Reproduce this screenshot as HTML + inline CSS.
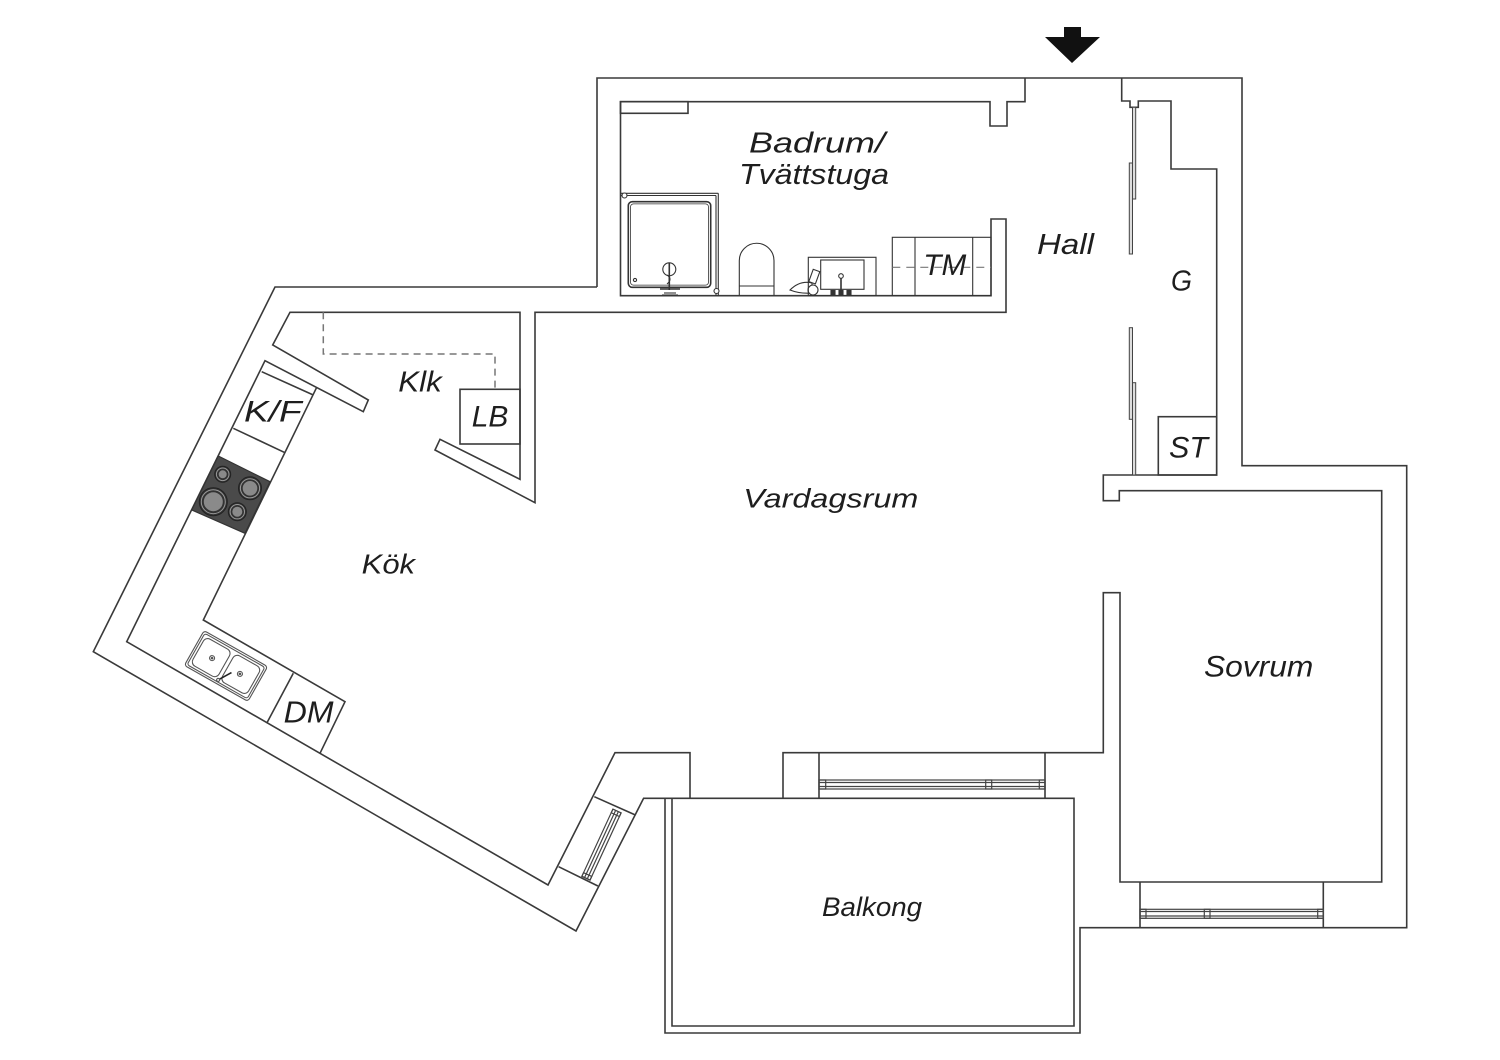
<!DOCTYPE html>
<html><head><meta charset="utf-8"><style>
html,body{margin:0;padding:0;background:#fff;}
svg{display:block;}
text{font-family:"Liberation Sans",sans-serif;font-style:italic;fill:#1e1e1e;}
</style></head><body>
<svg width="1500" height="1060" viewBox="0 0 1500 1060" xmlns="http://www.w3.org/2000/svg">
<rect width="1500" height="1060" fill="#fff"/>
<!-- entrance arrow -->
<polygon points="1064,27 1081,27 1081,37 1100,37 1072,63 1045,37 1064,37" fill="#111"/>

<g fill="none" stroke="#3a3a3a" stroke-width="1.6" stroke-linejoin="miter">
<!-- outer walls -->
<polyline points="597,287 597,78 1242,78 1242,465.7 1406.7,465.7 1406.7,927.7 1080,927.7 1080,1033 665,1033 665,798.3"/>
<polyline points="597,287 275,287 93.3,651.7 576,931 643.6,798.3 1074,798.3 1074,1026 672,1026 672,798.3"/>
<!-- inner main walls -->
<polyline points="1025,78 1025,101.7 1007,101.7 1007,126 990,126 990,101.7 620.5,101.7 620.5,295.7 991,295.7 991,219 1006,219 1006,312.3 535,312.3 535,502.7 435,450 440,439.3 520,479.3 520,312.3 290,312.3 272.7,345 368.3,400 363.3,411.7 265,360.7 126.7,641.7 548,885 615,752.7 690,752.7 690,798.3"/>
<!-- hall / closet / sovrum -->
<polyline points="1121.7,78 1121.7,101 1130,101 1130,107.3 1138.3,107.3 1138.3,101 1171,101 1171,169 1216.7,169 1216.7,475 1103.3,475 1103.3,500.7 1119.3,500.7 1119.3,490.7 1381.7,490.7 1381.7,882 1120,882 1120,592.7 1103.3,592.7 1103.3,752.7 783,752.7 783,798.3"/>
<line x1="1045" y1="752.7" x2="1045" y2="798.3"/>
<line x1="819" y1="752.7" x2="819" y2="798.3"/>
<line x1="1140" y1="882" x2="1140" y2="927.7"/>
<line x1="1323.3" y1="882" x2="1323.3" y2="927.7"/>
<rect x="1158.3" y="416.7" width="58.4" height="58.3"/>
<!-- bath small box -->
<rect x="620.5" y="101.7" width="67.5" height="11.6"/>
<!-- LB -->
<rect x="460" y="389.3" width="60" height="54.7"/>
<!-- kitchen counter -->
<polyline points="316.7,387.3 203.3,620 345,701.7 320,753.3"/>
<line x1="261.7" y1="371.7" x2="313.3" y2="395"/>
<line x1="233.3" y1="428.3" x2="285" y2="452.7"/>
<line x1="293.3" y1="673.3" x2="266.7" y2="723.3"/>
<!-- kitchen window caps -->
<line x1="594.3" y1="796.7" x2="635.4" y2="815"/>
<line x1="558.6" y1="866.7" x2="597.9" y2="886"/>
</g>

<!-- Klk dashed -->
<polyline points="323.3,312.3 323.3,354 495,354 495,389.3" fill="none" stroke="#777" stroke-width="1.5" stroke-dasharray="7 5"/>

<!-- sliding doors -->
<g fill="#ddd" stroke="#444" stroke-width="1">
<rect x="1132.5" y="107.3" width="3.2" height="91.7"/>
<rect x="1129.3" y="163" width="3.2" height="91"/>
<rect x="1129.3" y="327.7" width="3.2" height="91.6"/>
<rect x="1132.5" y="382.7" width="3.2" height="92.3"/>
</g>

<!-- windows -->
<g fill="none" stroke="#444" stroke-width="1.2">
<rect x="819" y="780" width="226" height="9"/>
<line x1="819" y1="782.5" x2="1045" y2="782.5"/>
<line x1="819" y1="786.5" x2="1045" y2="786.5"/>
<rect x="819" y="780" width="6.7" height="9"/>
<rect x="985.7" y="780" width="6" height="9"/>
<rect x="1039.3" y="780" width="5.7" height="9"/>
<rect x="1140" y="909.3" width="183.3" height="9"/>
<line x1="1140" y1="911.5" x2="1323.3" y2="911.5"/>
<line x1="1140" y1="916" x2="1323.3" y2="916"/>
<rect x="1140" y="909.3" width="6" height="9"/>
<rect x="1204.3" y="909.3" width="5.7" height="9"/>
<rect x="1317.7" y="909.3" width="5.6" height="9"/>
<g transform="translate(617,811) rotate(114.8)">
<rect x="0" y="-4.5" width="74" height="9"/>
<line x1="0" y1="-1.5" x2="74" y2="-1.5"/>
<line x1="0" y1="1.5" x2="74" y2="1.5"/>
<rect x="0" y="-4.5" width="4" height="9"/>
<rect x="70" y="-4.5" width="4" height="9"/>
</g>
</g>

<!-- stove -->
<polygon points="218.3,456 270,481.7 245,533.3 191.7,510" fill="#4a4a4a" stroke="#333" stroke-width="1.2"/>
<g stroke-width="1">
<circle cx="222.7" cy="474.3" r="8" fill="#333" stroke="#222"/>
<circle cx="222.7" cy="474.3" r="6.3" fill="none" stroke="#999"/>
<circle cx="222.7" cy="474.3" r="4.5" fill="#8a8a8a" stroke="#333"/>
<circle cx="250" cy="488.3" r="11.5" fill="#333" stroke="#222"/>
<circle cx="250" cy="488.3" r="9.6" fill="none" stroke="#999"/>
<circle cx="250" cy="488.3" r="7.8" fill="#8a8a8a" stroke="#333"/>
<circle cx="213.3" cy="501.7" r="14" fill="#333" stroke="#222"/>
<circle cx="213.3" cy="501.7" r="12" fill="none" stroke="#999"/>
<circle cx="213.3" cy="501.7" r="10" fill="#8a8a8a" stroke="#333"/>
<circle cx="237.3" cy="511.7" r="9" fill="#333" stroke="#222"/>
<circle cx="237.3" cy="511.7" r="7.2" fill="none" stroke="#999"/>
<circle cx="237.3" cy="511.7" r="5.5" fill="#8a8a8a" stroke="#333"/>
</g>

<!-- kitchen sink -->
<g transform="translate(226,666) rotate(29.5)" fill="none" stroke="#555" stroke-width="1.1">
<rect x="-36.5" y="-20" width="73" height="40" rx="3" fill="#fff"/>
<rect x="-34.5" y="-18" width="69" height="36" rx="2.5"/>
<rect x="-32" y="-15.5" width="30" height="31" rx="5"/>
<rect x="2" y="-15.5" width="30" height="31" rx="5"/>
<circle cx="-16" cy="0" r="2.5"/>
<circle cx="-16" cy="0" r="0.8" fill="#333"/>
<circle cx="16" cy="0" r="2.5"/>
<circle cx="16" cy="0" r="0.8" fill="#333"/>
<line x1="0" y1="16" x2="8" y2="3" stroke="#222" stroke-width="1.6"/>
<circle cx="0" cy="16" r="1.5" fill="#fff"/>
</g>

<!-- bathroom fixtures -->
<g fill="none" stroke="#333" stroke-width="1.1">
<!-- shower -->
<line x1="620.5" y1="193.3" x2="718.3" y2="193.3"/>
<line x1="620.5" y1="195.5" x2="716" y2="195.5"/>
<line x1="718.3" y1="193.3" x2="718.3" y2="295.7"/>
<line x1="716" y1="195.5" x2="716" y2="295.7"/>
<circle cx="624.5" cy="195.5" r="2.5" fill="#fff"/>
<circle cx="716.5" cy="291" r="2.5" fill="#fff"/>
<rect x="628.3" y="201.7" width="82.4" height="85.6" rx="4" stroke-width="1.6"/>
<rect x="630.5" y="203.9" width="78" height="81.2" rx="3" stroke-width="0.8"/>
<circle cx="635" cy="280" r="1.6"/>
<circle cx="669.3" cy="269.3" r="6.5"/>
<line x1="669.3" y1="263" x2="669.3" y2="290" stroke-width="1.6"/>
<path d="M667,275 Q673,279 667,284"/>
<line x1="660" y1="289" x2="680" y2="289" stroke-width="1.6"/>
<line x1="664" y1="293" x2="676" y2="293"/>
<line x1="662" y1="295" x2="678" y2="295"/>
<!-- toilet -->
<path d="M739.3,295.7 V260.6 A17.35,17.35 0 0 1 774,260.6 V295.7"/>
<line x1="739.3" y1="286" x2="774" y2="286"/>
<!-- dryer-ish -->
<path d="M790,290 Q800,280 812,283 L812,293 Q800,294 790,290 Z"/>
<circle cx="813" cy="290" r="5" fill="#fff"/>
<rect x="811" y="270" width="7" height="13" transform="rotate(20 814 276)"/>
<!-- sink -->
<rect x="808.3" y="257.3" width="67.7" height="38.4"/>
<rect x="820.7" y="260" width="43.3" height="29.3"/>
<line x1="841" y1="278" x2="841" y2="290" stroke-width="1.6"/>
<circle cx="841" cy="276" r="2.3" fill="#fff"/>
<rect x="831" y="290.5" width="4" height="4" fill="#333"/>
<rect x="839" y="290.5" width="4" height="4" fill="#333"/>
<rect x="847" y="290.5" width="4" height="4" fill="#333"/>
<!-- TM -->
<rect x="892.3" y="237.3" width="98.7" height="58.4"/>
<line x1="915" y1="237.3" x2="915" y2="295.7"/>
<line x1="972.7" y1="237.3" x2="972.7" y2="295.7"/>
<line x1="892.3" y1="267.3" x2="991" y2="267.3" stroke="#777" stroke-dasharray="8 6"/>
</g>

<!-- labels -->
<text x="749" y="152.7" font-size="29" textLength="136" lengthAdjust="spacingAndGlyphs">Badrum/</text>
<text x="739" y="184" font-size="29" textLength="150" lengthAdjust="spacingAndGlyphs">Tvättstuga</text>
<text x="1037" y="254" font-size="29" textLength="57" lengthAdjust="spacingAndGlyphs">Hall</text>
<text x="1171" y="290.7" font-size="29" textLength="21" lengthAdjust="spacingAndGlyphs">G</text>
<text x="1169" y="457.3" font-size="30" textLength="39" lengthAdjust="spacingAndGlyphs">ST</text>
<text x="923.3" y="275" font-size="30" textLength="43" lengthAdjust="spacingAndGlyphs">TM</text>
<text x="398.3" y="391.7" font-size="29" textLength="43.4" lengthAdjust="spacingAndGlyphs">Klk</text>
<text x="471.7" y="426.7" font-size="30" textLength="36.6" lengthAdjust="spacingAndGlyphs">LB</text>
<text x="244" y="421.7" font-size="30" textLength="57.7" lengthAdjust="spacingAndGlyphs">K/F</text>
<text x="361.7" y="573.3" font-size="28" textLength="53.3" lengthAdjust="spacingAndGlyphs">Kök</text>
<text x="283.6" y="722.7" font-size="31" textLength="50" lengthAdjust="spacingAndGlyphs">DM</text>
<text x="743.3" y="507.3" font-size="26.5" textLength="175" lengthAdjust="spacingAndGlyphs">Vardagsrum</text>
<text x="1204" y="676.7" font-size="30" textLength="109.3" lengthAdjust="spacingAndGlyphs">Sovrum</text>
<text x="822" y="916" font-size="26.5" textLength="100" lengthAdjust="spacingAndGlyphs">Balkong</text>
</svg>
</body></html>
